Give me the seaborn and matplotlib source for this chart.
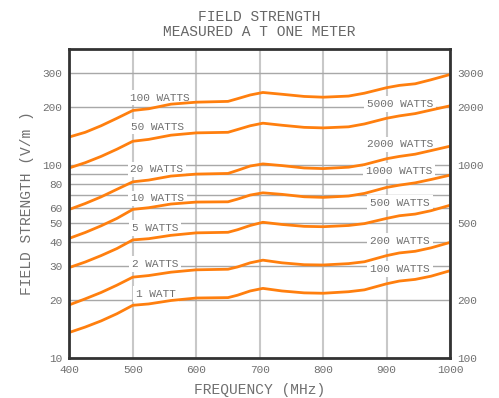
import numpy as np
import pandas as pd
import seaborn as sns
import matplotlib.pyplot as plt

# frequency (MHz) and field strength (V/m)
freq = [400, 425, 450, 475, 500, 525, 560, 600, 650, 665, 685, 705,
        735, 770, 800, 840, 865, 900, 920, 945, 970, 1000]
w1 = [13.6, 14.5, 15.6, 17.0, 18.8, 19.1, 19.9, 20.5, 20.6, 21.2, 22.3, 23.0,
      22.3, 21.8, 21.7, 22.1, 22.6, 24.3, 25.1, 25.6, 26.6, 28.4]
w2 = [18.9, 20.3, 21.9, 23.9, 26.3, 26.8, 27.9, 28.7, 28.9, 29.7, 31.2, 32.2,
      31.2, 30.5, 30.4, 30.9, 31.6, 34.0, 35.1, 35.8, 37.3, 39.8]
w5 = [29.5, 31.5, 34.0, 37.0, 41.0, 41.6, 43.3, 44.6, 44.9, 46.3, 48.7, 50.6,
      49.3, 48.2, 48.0, 48.7, 49.8, 53.0, 54.7, 55.8, 58.1, 62.0]
w10 = [41.8, 44.8, 48.5, 53.0, 59.0, 60.2, 62.9, 64.4, 64.6, 66.7, 70.0, 71.9,
       70.6, 68.6, 68.1, 69.2, 71.4, 76.7, 78.8, 81.0, 84.3, 88.8]
w20 = [59.0, 63.3, 68.5, 75.0, 82.0, 83.7, 87.8, 89.9, 90.6, 94.0, 99.0, 101.5,
       99.5, 96.7, 96.0, 97.6, 100.7, 108.0, 111.0, 114.0, 119.0, 125.4]
w50 = [96.8, 103, 111, 121, 133, 136, 143, 147, 148, 153, 160, 165,
       161, 157, 156, 158, 163.5, 175, 180, 185, 193, 203]
w100 = [140, 148, 160, 175, 192, 196, 207, 212, 214, 221, 231, 238,
        233, 227, 225, 228, 236, 252, 259, 264, 277, 295]

series = {"1": w1, "2": w2, "5": w5, "10": w10, "20": w20, "50": w50, "100": w100}

left_ticks = [10, 20, 30, 40, 50, 60, 80, 100, 200, 300]
right_ticks = [100, 200, 500, 1000, 2000, 3000]

# curve labels: (text, x, y)
left_labels = [("100 WATTS", 496, 224), ("50 WATTS", 497, 158.5),
               ("20 WATTS", 496, 95), ("10 WATTS", 497, 67.3),
               ("5 WATTS", 498, 47.4), ("2 WATTS", 499, 30.7),
               ("1 WATT", 505, 21.5)]
right_labels = [("5000 WATTS", 973, 208), ("2000 WATTS", 973, 128),
                ("1000 WATTS", 972, 93), ("500 WATTS", 968, 63.9),
                ("200 WATTS", 968, 40.6), ("100 WATTS", 968, 28.9)]

df = pd.DataFrame([(f, v, k) for k, vals in series.items() for f, v in zip(freq, vals)],
                  columns=["freq", "field", "watts"])

sns.set_theme(style="white")
plt.rcParams["font.family"] = ["Liberation Mono", "DejaVu Sans Mono"]

txt = "#707070"
fig = plt.figure(figsize=(4.99, 3.98), dpi=100)
ax = fig.add_axes([0.139, 0.1, 0.763, 0.777])

sns.lineplot(data=df, x="freq", y="field", units="watts", estimator=None,
             color="#ff7f0e", linewidth=2.0, ax=ax, legend=False, zorder=4)

ax.set_yscale("log")
ax.set_xlim(400, 1000)
ax.set_ylim(10, 400)
ax.set_xticks(range(400, 1001, 100))
ax.set_yticks(left_ticks, labels=[str(t) for t in left_ticks])
ax.set_yticks([70, 90], labels=["", ""], minor=True)
ax.tick_params(axis="both", which="both", length=0, labelsize=8, labelcolor=txt, pad=5)

ax.set_axisbelow(True)
ax.grid(axis="x", color="#c8c8c8", linewidth=1.5)
ax.grid(axis="y", which="both", color="#a8a8a8", linewidth=1.0)

for s in ax.spines.values():
    s.set_color("#333333")
    s.set_linewidth(2.0)
    s.set_zorder(5)

ax.set_xlabel("FREQUENCY (MHz)", fontsize=10.5, color=txt, labelpad=6)
ax.set_ylabel("FIELD STRENGTH (V/m )", fontsize=10.5, color=txt, labelpad=6)
ax.set_title("FIELD STRENGTH\nMEASURED A T ONE METER", fontsize=10.5,
             color="#666666", linespacing=1.15, pad=9)

box = dict(facecolor="white", edgecolor="none", pad=2)
for t, x, y in left_labels:
    ax.text(x, y, t, fontsize=8, color=txt, ha="left", va="center", bbox=box, zorder=2)
for t, x, y in right_labels:
    ax.text(x, y, t, fontsize=8, color=txt, ha="right", va="center", bbox=box, zorder=2)

ax2 = ax.twinx()
ax2.set_yscale("log")
ax2.set_ylim(100, 4000)
ax2.set_yticks(right_ticks, labels=[str(t) for t in right_ticks])
ax2.set_yticks([], minor=True)
ax2.tick_params(axis="y", which="both", length=0, labelsize=8, labelcolor=txt, pad=5)
ax2.grid(False)
for s in ax2.spines.values():
    s.set_visible(False)

fig.savefig("out.png", dpi=100)
